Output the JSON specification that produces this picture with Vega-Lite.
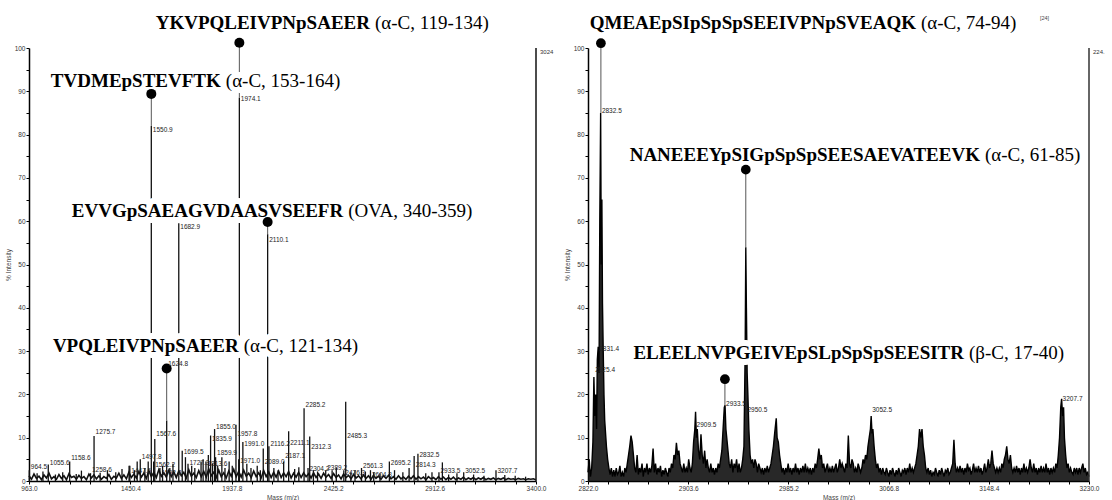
{
"$schema":"https://vega.github.io/schema/vega-lite/v6.json",
"padding":{"left":5,"top":13,"right":0,"bottom":0},
"spacing":10,
"config":{"view":{"stroke":null},
"axis":{"grid":false,"domainColor":"#000","domainWidth":1.5,"tickColor":"#000","tickSize":3,"tickWidth":1,"labelFont":"Liberation Sans","labelFontSize":6.5,"labelColor":"#333","labelPadding":1,"labelFlush":false,"labelOverlap":false,"titleFont":"Liberation Sans","titleFontSize":6.5,"titleFontWeight":"normal","titleColor":"#444","titlePadding":3}},
"datasets":{
"leftNoise":[{"m":963,"i":1.2},{"m":975,"i":0.4},{"m":987,"i":1.6},{"m":999,"i":0.6},{"m":1011,"i":1.1},{"m":1023,"i":0.3},{"m":1035,"i":1.4},{"m":1047,"i":0.7},{"m":1059,"i":1.8},{"m":1071,"i":0.5},{"m":1083,"i":1.0},{"m":1095,"i":0.4},{"m":1107,"i":1.5},{"m":1119,"i":0.6},{"m":1131,"i":1.2},{"m":1143,"i":0.3},{"m":1155,"i":1.7},{"m":1167,"i":0.8},{"m":1179,"i":1.1},{"m":1191,"i":0.4},{"m":1203,"i":1.3},{"m":1215,"i":0.6},{"m":1227,"i":1.0},{"m":1239,"i":0.3},{"m":1251,"i":1.6},{"m":1263,"i":0.7},{"m":1275,"i":1.4},{"m":1287,"i":0.5},{"m":1299,"i":1.2},{"m":1311,"i":0.4},{"m":1323,"i":1.0},{"m":1335,"i":0.6},{"m":1347,"i":1.5},{"m":1359,"i":0.4},{"m":1371,"i":1.1},{"m":1383,"i":0.7},{"m":1395,"i":1.8},{"m":1407,"i":0.6},{"m":1419,"i":1.4},{"m":1431,"i":0.5},{"m":1443,"i":2.0},{"m":1455,"i":0.8},{"m":1467,"i":1.6},{"m":1479,"i":0.7},{"m":1491,"i":2.2},{"m":1503,"i":0.9},{"m":1515,"i":1.8},{"m":1527,"i":0.6},{"m":1539,"i":2.4},{"m":1551,"i":1.0},{"m":1563,"i":2.0},{"m":1575,"i":0.8},{"m":1587,"i":2.6},{"m":1599,"i":1.1},{"m":1611,"i":1.9},{"m":1623,"i":0.9},{"m":1635,"i":2.5},{"m":1647,"i":1.0},{"m":1659,"i":2.1},{"m":1671,"i":0.8},{"m":1683,"i":2.3},{"m":1695,"i":1.2},{"m":1707,"i":2.0},{"m":1719,"i":0.7},{"m":1731,"i":2.6},{"m":1743,"i":1.1},{"m":1755,"i":1.8},{"m":1767,"i":0.8},{"m":1779,"i":2.4},{"m":1791,"i":1.0},{"m":1803,"i":2.2},{"m":1815,"i":0.9},{"m":1827,"i":2.8},{"m":1839,"i":1.2},{"m":1851,"i":2.0},{"m":1863,"i":0.8},{"m":1875,"i":2.5},{"m":1887,"i":1.0},{"m":1899,"i":1.9},{"m":1911,"i":0.7},{"m":1923,"i":2.3},{"m":1935,"i":1.1},{"m":1947,"i":2.7},{"m":1959,"i":1.0},{"m":1971,"i":2.2},{"m":1983,"i":0.9},{"m":1995,"i":2.5},{"m":2007,"i":1.1},{"m":2019,"i":1.8},{"m":2031,"i":0.8},{"m":2043,"i":2.3},{"m":2055,"i":1.0},{"m":2067,"i":1.9},{"m":2079,"i":0.7},{"m":2091,"i":2.4},{"m":2103,"i":1.0},{"m":2115,"i":2.1},{"m":2127,"i":0.8},{"m":2139,"i":2.0},{"m":2151,"i":0.9},{"m":2163,"i":2.3},{"m":2175,"i":0.8},{"m":2187,"i":1.9},{"m":2199,"i":1.0},{"m":2211,"i":2.2},{"m":2223,"i":0.7},{"m":2235,"i":1.8},{"m":2247,"i":0.9},{"m":2259,"i":2.0},{"m":2271,"i":0.8},{"m":2283,"i":1.9},{"m":2295,"i":1.0},{"m":2307,"i":1.7},{"m":2319,"i":0.7},{"m":2331,"i":1.9},{"m":2343,"i":0.8},{"m":2355,"i":1.6},{"m":2367,"i":0.6},{"m":2379,"i":1.8},{"m":2391,"i":0.9},{"m":2403,"i":1.5},{"m":2415,"i":0.6},{"m":2427,"i":1.7},{"m":2439,"i":0.8},{"m":2451,"i":1.4},{"m":2463,"i":0.5},{"m":2475,"i":1.6},{"m":2487,"i":0.8},{"m":2499,"i":1.3},{"m":2511,"i":0.5},{"m":2523,"i":1.5},{"m":2535,"i":0.7},{"m":2547,"i":1.2},{"m":2559,"i":0.5},{"m":2571,"i":1.4},{"m":2583,"i":0.6},{"m":2595,"i":1.2},{"m":2607,"i":0.4},{"m":2619,"i":1.3},{"m":2631,"i":0.6},{"m":2643,"i":1.1},{"m":2655,"i":0.4},{"m":2667,"i":1.2},{"m":2679,"i":0.6},{"m":2691,"i":1.3},{"m":2703,"i":0.5},{"m":2715,"i":1.0},{"m":2727,"i":0.4},{"m":2739,"i":1.2},{"m":2751,"i":0.5},{"m":2763,"i":0.9},{"m":2775,"i":0.4},{"m":2787,"i":1.1},{"m":2799,"i":0.5},{"m":2811,"i":1.2},{"m":2823,"i":0.4},{"m":2835,"i":1.0},{"m":2847,"i":0.5},{"m":2859,"i":0.9},{"m":2871,"i":0.3},{"m":2883,"i":1.0},{"m":2895,"i":0.5},{"m":2907,"i":0.8},{"m":2919,"i":0.3},{"m":2931,"i":1.0},{"m":2943,"i":0.4},{"m":2955,"i":0.9},{"m":2967,"i":0.3},{"m":2979,"i":0.8},{"m":2991,"i":0.4},{"m":3003,"i":0.9},{"m":3015,"i":0.3},{"m":3027,"i":0.7},{"m":3039,"i":0.4},{"m":3051,"i":0.9},{"m":3063,"i":0.3},{"m":3075,"i":0.7},{"m":3087,"i":0.4},{"m":3099,"i":0.8},{"m":3111,"i":0.3},{"m":3123,"i":0.7},{"m":3135,"i":0.4},{"m":3147,"i":0.8},{"m":3159,"i":0.3},{"m":3171,"i":0.6},{"m":3183,"i":0.4},{"m":3195,"i":0.7},{"m":3207,"i":0.3},{"m":3219,"i":0.6},{"m":3231,"i":0.4},{"m":3243,"i":0.7},{"m":3255,"i":0.3},{"m":3267,"i":0.6},{"m":3279,"i":0.4},{"m":3291,"i":0.5},{"m":3303,"i":0.3},{"m":3315,"i":0.6},{"m":3327,"i":0.4},{"m":3339,"i":0.5},{"m":3351,"i":0.3},{"m":3363,"i":0.5},{"m":3375,"i":0.4},{"m":3387,"i":0.5},{"m":3399,"i":0.3}],
"leftPeaks":[{"m":964.5,"i":2.5,"ly":3.2,"lab":"964.5"},{"m":1055.6,"i":3.8,"ly":4.2,"lab":"1055.6"},{"m":1158.6,"i":4.5,"ly":5.4,"lab":"1158.6"},{"m":1258.6,"i":1.8,"ly":2.6,"lab":"1258.6"},{"m":1275.7,"i":10.4,"ly":11.4,"lab":"1275.7"},{"m":1447.6,"i":3.5,"ly":2.2,"lab":"1447.6"},{"m":1497.8,"i":5.0,"ly":5.6,"lab":"1497.8"},{"m":1550.9,"i":82,"ly":81,"lab":"1550.9"},{"m":1562.2,"i":4.5,"ly":3.6,"lab":"1562.2"},{"m":1567.6,"i":9.7,"ly":10.9,"lab":"1567.6"},{"m":1592.3,"i":3.0,"ly":1.8,"lab":"1592.3"},{"m":1624.8,"i":14,"ly":27,"lab":"1624.8"},{"m":1682.9,"i":59.5,"ly":58.7,"lab":"1682.9"},{"m":1699.5,"i":7.0,"ly":6.6,"lab":"1699.5"},{"m":1727.3,"i":4.0,"ly":4.2,"lab":"1727.3"},{"m":1813.6,"i":4.5,"ly":3.9,"lab":"1813.6"},{"m":1835.9,"i":10.5,"ly":9.7,"lab":"1835.9"},{"m":1855.0,"i":12,"ly":12.5,"lab":"1855.0"},{"m":1859.9,"i":5.5,"ly":6.4,"lab":"1859.9"},{"m":1957.8,"i":13,"ly":10.9,"lab":"1957.8"},{"m":1971.0,"i":5.0,"ly":4.6,"lab":"1971.0"},{"m":1974.1,"i":88.5,"ly":88.2,"lab":"1974.1"},{"m":1991.0,"i":9.0,"ly":8.6,"lab":"1991.0"},{"m":2089.0,"i":7.5,"ly":4.3,"lab":"2089.0"},{"m":2110.1,"i":57,"ly":55.7,"lab":"2110.1"},{"m":2116.2,"i":8.0,"ly":8.6,"lab":"2116.2"},{"m":2187.1,"i":4.5,"ly":5.8,"lab":"2187.1"},{"m":2211.1,"i":11.5,"ly":8.8,"lab":"2211.1"},{"m":2285.2,"i":16.8,"ly":17.5,"lab":"2285.2"},{"m":2304.2,"i":3.0,"ly":2.7,"lab":"2304.2"},{"m":2312.3,"i":10.3,"ly":7.8,"lab":"2312.3"},{"m":2389.2,"i":2.5,"ly":3.0,"lab":"2389.2"},{"m":2476.3,"i":2.5,"ly":1.8,"lab":"2476.3"},{"m":2485.3,"i":18.3,"ly":10.4,"lab":"2485.3"},{"m":2561.3,"i":3.0,"ly":3.4,"lab":"2561.3"},{"m":2604.3,"i":2.5,"ly":1.5,"lab":"2604.3"},{"m":2695.2,"i":4.5,"ly":4.1,"lab":"2695.2"},{"m":2814.3,"i":5.8,"ly":3.6,"lab":"2814.3"},{"m":2832.5,"i":6.3,"ly":5.9,"lab":"2832.5"},{"m":2933.5,"i":2.0,"ly":2.2,"lab":"2933.5"},{"m":3052.5,"i":2.0,"ly":2.2,"lab":"3052.5"},{"m":3207.7,"i":2.5,"ly":2.2,"lab":"3207.7"},
{"m":1002,"i":1.8},{"m":1030,"i":2.2},{"m":1090,"i":1.5},{"m":1125,"i":2.0},{"m":1190,"i":1.6},{"m":1215,"i":2.4},{"m":1305,"i":1.9},{"m":1340,"i":2.5},{"m":1380,"i":2.0},{"m":1410,"i":2.8},{"m":1444,"i":3.5},{"m":1470,"i":2.5},{"m":1483,"i":4.5},{"m":1520,"i":3.0},{"m":1536,"i":4.5},{"m":1605,"i":3.5},{"m":1640,"i":3.0},{"m":1655,"i":4.0},{"m":1715,"i":5.5},{"m":1745,"i":3.5},{"m":1760,"i":3.0},{"m":1790,"i":4.5},{"m":1800,"i":5.0},{"m":1825,"i":6.0},{"m":1845,"i":4.0},{"m":1870,"i":3.5},{"m":1890,"i":5.5},{"m":1905,"i":3.0},{"m":1925,"i":4.5},{"m":1940,"i":3.5},{"m":2010,"i":4.0},{"m":2030,"i":3.0},{"m":2060,"i":3.5},{"m":2075,"i":2.5},{"m":2140,"i":3.0},{"m":2160,"i":2.5},{"m":2240,"i":2.8},{"m":2260,"i":3.2},{"m":2330,"i":2.5},{"m":2350,"i":2.2},{"m":2420,"i":2.5},{"m":2440,"i":3.0},{"m":2510,"i":2.0},{"m":2530,"i":2.5},{"m":2580,"i":2.2},{"m":2620,"i":2.0},{"m":2650,"i":1.8},{"m":2720,"i":2.5},{"m":2760,"i":2.0},{"m":2790,"i":3.0},{"m":2870,"i":1.8},{"m":2900,"i":2.0},{"m":2950,"i":4.3},{"m":2980,"i":1.5},{"m":3020,"i":1.8},{"m":3100,"i":1.5},{"m":3150,"i":1.2},{"m":3250,"i":1.4},{"m":3300,"i":1.2},{"m":3350,"i":1.0}],
"leftAnn":[{"seq":"YKVPQLEIVPNpSAEER","par":"(α-C, 119-134)","m":1974.1,"top":88.5,"dot":101.2,"lx":2602,"ly":104.3},{"seq":"TVDMEpSTEVFTK","par":"(α-C, 153-164)","m":1550.9,"top":82,"dot":89.4,"lx":1885,"ly":90.9},{"seq":"EVVGpSAEAGVDAASVSEEFR","par":"(OVA, 340-359)","m":2110.1,"top":57,"dot":59.8,"lx":2473,"ly":60.9},{"seq":"VPQLEIVPNpSAEER","par":"(α-C, 121-134)","m":1624.8,"top":14,"dot":26,"lx":1971,"ly":29.8}],
"rightTrace":[{"m":2822,"i":2},{"m":2823,"i":5},{"m":2824,"i":1},{"m":2825,"i":3},{"m":2826,"i":9},{"m":2826.8,"i":24},{"m":2827.5,"i":15},{"m":2828.2,"i":20},{"m":2829,"i":12},{"m":2829.6,"i":28},{"m":2830.3,"i":31},{"m":2831,"i":25},{"m":2831.6,"i":60},{"m":2832.3,"i":85},{"m":2832.8,"i":50},{"m":2833.3,"i":65},{"m":2833.8,"i":41},{"m":2834.4,"i":30},{"m":2835,"i":20},{"m":2835.6,"i":14},{"m":2836.3,"i":11},{"m":2837,"i":8},{"m":2838,"i":5},{"m":2839,"i":3},{"m":2840,"i":1.5},{"m":2841,"i":3},{"m":2842,"i":1},{"m":2843,"i":2.5},{"m":2844,"i":1},{"m":2845,"i":3},{"m":2846,"i":1.5},{"m":2847,"i":2},{"m":2848,"i":3.5},{"m":2849,"i":1},{"m":2850,"i":2},{"m":2851,"i":1},{"m":2852,"i":3},{"m":2853,"i":2},{"m":2854,"i":4},{"m":2855,"i":6},{"m":2856,"i":8},{"m":2857,"i":10.5},{"m":2858,"i":9},{"m":2859,"i":6},{"m":2860,"i":3},{"m":2861,"i":2},{"m":2862,"i":6},{"m":2863,"i":1.5},{"m":2864,"i":3},{"m":2865,"i":2},{"m":2866,"i":4},{"m":2867,"i":1},{"m":2868,"i":3},{"m":2869,"i":2},{"m":2870,"i":4},{"m":2871,"i":1.5},{"m":2872,"i":3},{"m":2873,"i":2},{"m":2874,"i":3.5},{"m":2875,"i":7.5},{"m":2876,"i":2},{"m":2877,"i":4},{"m":2878,"i":1.5},{"m":2879,"i":3},{"m":2880,"i":2},{"m":2881,"i":3.5},{"m":2882,"i":1},{"m":2883,"i":2.5},{"m":2884,"i":1.5},{"m":2885,"i":3},{"m":2886,"i":2},{"m":2887,"i":1},{"m":2888,"i":3},{"m":2889,"i":2},{"m":2890,"i":4},{"m":2891,"i":3},{"m":2892,"i":6},{"m":2893,"i":5},{"m":2894,"i":8.8},{"m":2895,"i":6},{"m":2896,"i":7},{"m":2897,"i":4},{"m":2898,"i":3},{"m":2899,"i":2},{"m":2900,"i":4},{"m":2901,"i":2},{"m":2902,"i":3},{"m":2903,"i":2},{"m":2904,"i":5},{"m":2905,"i":3},{"m":2906,"i":2},{"m":2907,"i":4},{"m":2908,"i":9},{"m":2909,"i":12},{"m":2909.6,"i":16},{"m":2910.3,"i":10},{"m":2911,"i":12},{"m":2912,"i":7},{"m":2913,"i":5},{"m":2914,"i":10.8},{"m":2915,"i":6},{"m":2916,"i":4},{"m":2917,"i":7},{"m":2918,"i":3},{"m":2919,"i":5},{"m":2920,"i":3},{"m":2921,"i":2},{"m":2922,"i":4},{"m":2923,"i":2},{"m":2924,"i":3},{"m":2925,"i":1.5},{"m":2926,"i":3},{"m":2927,"i":2},{"m":2928,"i":4},{"m":2929,"i":3},{"m":2930,"i":5},{"m":2931,"i":7},{"m":2932,"i":12},{"m":2933,"i":17},{"m":2933.6,"i":17.5},{"m":2934.3,"i":12},{"m":2935,"i":10},{"m":2936,"i":7},{"m":2937,"i":4},{"m":2938,"i":3},{"m":2939,"i":5},{"m":2940,"i":2},{"m":2941,"i":4},{"m":2942,"i":3},{"m":2943,"i":5},{"m":2944,"i":2},{"m":2945,"i":4},{"m":2946,"i":2},{"m":2947,"i":3},{"m":2948,"i":5},{"m":2949,"i":8},{"m":2950,"i":30},{"m":2950.5,"i":54},{"m":2951,"i":40},{"m":2951.6,"i":25},{"m":2952.2,"i":20},{"m":2953,"i":12},{"m":2954,"i":6},{"m":2955,"i":4},{"m":2956,"i":5},{"m":2957,"i":3},{"m":2958,"i":5},{"m":2959,"i":4},{"m":2960,"i":2},{"m":2961,"i":4},{"m":2962,"i":3},{"m":2963,"i":2},{"m":2964,"i":3},{"m":2965,"i":1.5},{"m":2966,"i":3},{"m":2967,"i":2},{"m":2968,"i":3.5},{"m":2969,"i":2},{"m":2970,"i":3},{"m":2971,"i":4},{"m":2972,"i":6},{"m":2973,"i":8},{"m":2974,"i":11},{"m":2975.3,"i":14.5},{"m":2976,"i":10},{"m":2977,"i":9},{"m":2978,"i":6},{"m":2979,"i":4},{"m":2980,"i":2},{"m":2981,"i":3},{"m":2982,"i":1.5},{"m":2983,"i":3},{"m":2984,"i":2},{"m":2985,"i":4},{"m":2986,"i":2},{"m":2987,"i":3},{"m":2988,"i":1.5},{"m":2989,"i":3},{"m":2990,"i":2},{"m":2991,"i":4},{"m":2992,"i":2},{"m":2993,"i":3},{"m":2994,"i":1.5},{"m":2995,"i":3},{"m":2996,"i":2},{"m":2997,"i":3.5},{"m":2998,"i":2},{"m":2999,"i":4},{"m":3000,"i":2},{"m":3001,"i":3},{"m":3002,"i":2},{"m":3003,"i":3},{"m":3004,"i":1.5},{"m":3005,"i":3},{"m":3006,"i":2},{"m":3007,"i":4},{"m":3008,"i":3},{"m":3009,"i":5},{"m":3010,"i":7.5},{"m":3011,"i":5},{"m":3012,"i":6},{"m":3013,"i":3},{"m":3014,"i":4},{"m":3015,"i":2},{"m":3016,"i":3},{"m":3017,"i":4},{"m":3018,"i":2},{"m":3019,"i":3},{"m":3020,"i":2},{"m":3021,"i":3.5},{"m":3022,"i":2},{"m":3023,"i":3},{"m":3024,"i":4},{"m":3025,"i":2},{"m":3026,"i":3},{"m":3027,"i":5},{"m":3028,"i":3},{"m":3029,"i":4},{"m":3030,"i":3},{"m":3031,"i":2},{"m":3032,"i":4},{"m":3033,"i":3},{"m":3034,"i":10.5},{"m":3035,"i":4},{"m":3036,"i":3},{"m":3037,"i":5},{"m":3038,"i":4},{"m":3039,"i":2},{"m":3040,"i":3},{"m":3041,"i":2},{"m":3042,"i":4},{"m":3043,"i":3},{"m":3044,"i":2},{"m":3045,"i":3},{"m":3046,"i":5},{"m":3047,"i":4},{"m":3048,"i":6},{"m":3049,"i":5},{"m":3050,"i":8},{"m":3051,"i":10},{"m":3052,"i":12},{"m":3052.6,"i":15},{"m":3053.3,"i":11},{"m":3054,"i":12},{"m":3055,"i":8},{"m":3056,"i":5},{"m":3057,"i":3},{"m":3058,"i":4},{"m":3059,"i":2},{"m":3060,"i":3},{"m":3061,"i":1.5},{"m":3062,"i":3},{"m":3063,"i":2},{"m":3064,"i":1.5},{"m":3065,"i":3},{"m":3066,"i":2},{"m":3067,"i":1},{"m":3068,"i":2.5},{"m":3069,"i":1.5},{"m":3070,"i":3},{"m":3071,"i":2},{"m":3072,"i":1},{"m":3073,"i":2.5},{"m":3074,"i":1.5},{"m":3075,"i":3},{"m":3076,"i":2},{"m":3077,"i":1},{"m":3078,"i":2.5},{"m":3079,"i":2},{"m":3080,"i":3},{"m":3081,"i":1.5},{"m":3082,"i":3},{"m":3083,"i":2},{"m":3084,"i":4},{"m":3085,"i":2},{"m":3086,"i":3},{"m":3087,"i":2},{"m":3088,"i":3},{"m":3089,"i":4},{"m":3090,"i":6},{"m":3091,"i":8},{"m":3092,"i":12},{"m":3093,"i":10},{"m":3094,"i":12},{"m":3095,"i":8},{"m":3096,"i":6},{"m":3097,"i":3},{"m":3098,"i":2},{"m":3099,"i":3},{"m":3100,"i":1.5},{"m":3101,"i":2.5},{"m":3102,"i":1},{"m":3103,"i":2},{"m":3104,"i":1.5},{"m":3105,"i":3},{"m":3106,"i":2},{"m":3107,"i":1},{"m":3108,"i":2.5},{"m":3109,"i":1.5},{"m":3110,"i":3},{"m":3111,"i":2},{"m":3112,"i":1},{"m":3113,"i":2.5},{"m":3114,"i":2},{"m":3115,"i":3},{"m":3116,"i":1.5},{"m":3117,"i":2},{"m":3118,"i":3},{"m":3119,"i":4},{"m":3120,"i":9.5},{"m":3121,"i":4},{"m":3122,"i":2},{"m":3123,"i":3},{"m":3124,"i":2},{"m":3125,"i":3.5},{"m":3126,"i":2},{"m":3127,"i":3},{"m":3128,"i":1.5},{"m":3129,"i":3},{"m":3130,"i":2},{"m":3131,"i":4},{"m":3132,"i":2.5},{"m":3133,"i":3},{"m":3134,"i":1.5},{"m":3135,"i":2.5},{"m":3136,"i":4},{"m":3137,"i":2},{"m":3138,"i":3},{"m":3139,"i":2},{"m":3140,"i":3.5},{"m":3141,"i":2},{"m":3142,"i":3},{"m":3143,"i":1.5},{"m":3144,"i":2.5},{"m":3145,"i":4},{"m":3146,"i":2},{"m":3147,"i":3},{"m":3148,"i":5},{"m":3149,"i":3},{"m":3150,"i":4},{"m":3151,"i":7},{"m":3152,"i":4},{"m":3153,"i":3},{"m":3154,"i":2},{"m":3155,"i":3},{"m":3156,"i":2},{"m":3157,"i":3},{"m":3158,"i":2},{"m":3159,"i":4},{"m":3160,"i":3},{"m":3161,"i":5},{"m":3162,"i":6},{"m":3163,"i":8},{"m":3164,"i":5},{"m":3165,"i":4},{"m":3166,"i":6},{"m":3167,"i":3},{"m":3168,"i":2},{"m":3169,"i":3},{"m":3170,"i":2},{"m":3171,"i":3.5},{"m":3172,"i":2},{"m":3173,"i":3},{"m":3174,"i":1.5},{"m":3175,"i":3},{"m":3176,"i":2},{"m":3177,"i":4},{"m":3178,"i":2},{"m":3179,"i":3},{"m":3180,"i":2},{"m":3181,"i":3},{"m":3182,"i":5},{"m":3183,"i":3},{"m":3184,"i":2},{"m":3185,"i":4},{"m":3186,"i":2},{"m":3187,"i":3},{"m":3188,"i":1.5},{"m":3189,"i":3},{"m":3190,"i":2},{"m":3191,"i":3.5},{"m":3192,"i":2},{"m":3193,"i":3},{"m":3194,"i":2},{"m":3195,"i":4},{"m":3196,"i":2},{"m":3197,"i":3},{"m":3198,"i":1.5},{"m":3199,"i":3},{"m":3200,"i":2},{"m":3201,"i":3},{"m":3202,"i":2},{"m":3203,"i":4},{"m":3204,"i":3},{"m":3205,"i":6},{"m":3206,"i":10},{"m":3207,"i":17},{"m":3207.7,"i":19},{"m":3208.5,"i":15},{"m":3209.3,"i":17},{"m":3210,"i":10},{"m":3211,"i":6},{"m":3212,"i":3},{"m":3213,"i":4},{"m":3214,"i":2},{"m":3215,"i":3},{"m":3216,"i":2},{"m":3217,"i":1.5},{"m":3218,"i":3},{"m":3219,"i":2},{"m":3220,"i":3},{"m":3221,"i":1.5},{"m":3222,"i":3},{"m":3223,"i":2},{"m":3224,"i":3},{"m":3225,"i":4},{"m":3226,"i":2},{"m":3227,"i":3},{"m":3228,"i":1.5},{"m":3229,"i":2},{"m":3230,"i":1}],
"rightLabels":[{"m":2827,"ly":25.6,"lab":"2825.4"},{"m":2830.3,"ly":30.5,"lab":"2831.4"},{"m":2832.5,"ly":85.4,"lab":"2832.5"},{"m":2909.6,"ly":12.9,"lab":"2909.5"},{"m":2933.6,"ly":17.8,"lab":"2933.5"},{"m":2951,"ly":16.4,"lab":"2950.5"},{"m":3052.6,"ly":16.4,"lab":"3052.5"},{"m":3207.7,"ly":18.9,"lab":"3207.7"}],
"rightAnn":[{"seq":"QMEAEpSIpSpSpSEEIVPNpSVEAQK","par":"(α-C, 74-94)","m":2832.5,"top":85,"dot":101.1,"lx":3089.1,"ly":104.4},{"seq":"NANEEEYpSIGpSpSpSEESAEVATEEVK","par":"(α-C, 61-85)","m":2950.5,"top":54,"dot":71.9,"lx":3141.2,"ly":74},{"seq":"ELEELNVPGEIVEpSLpSpSpSEESITR","par":"(β-C, 17-40)","m":2933.5,"top":17.5,"dot":23.5,"lx":3128.2,"ly":28.1}]
},
"hconcat":[
{"width":507,"height":433,
"layer":[
{"data":{"name":"leftNoise"},"mark":{"type":"line","color":"#111","strokeWidth":1.6},
"encoding":{
"x":{"field":"m","type":"quantitative","scale":{"domain":[963,3400],"nice":false,"zero":false},"axis":{"title":"Mass (m/z)","labelOverlap":false,"tickCount":40,"values":[963,1060.48,1157.96,1255.44,1352.92,1450.4,1547.88,1645.36,1742.84,1840.32,1937.8,2035.28,2132.76,2230.24,2327.72,2425.2,2522.68,2620.16,2717.64,2815.12,2912.6,3010.08,3107.56,3205.04,3302.52,3400],"labelExpr":"indexof([963,1450.4,1937.8,2425.2,2912.6,3400], datum.value) >= 0 ? format(datum.value, '.1f') : ''"}},
"y":{"field":"i","type":"quantitative","scale":{"domain":[0,100],"nice":false,"zero":true},"axis":{"title":"% Intensity","labelOverlap":false,"tickCount":40,"values":[0,5,10,15,20,25,30,35,40,45,50,55,60,65,70,75,80,85,90,95,100],"labelExpr":"datum.value % 10 == 0 ? datum.label : ''"}}}},
{"data":{"name":"leftPeaks"},"mark":{"type":"rule","color":"#111","strokeWidth":1.3},
"encoding":{"x":{"field":"m","type":"quantitative"},"y":{"field":"i","type":"quantitative"},"y2":{"datum":0}}},
{"data":{"name":"leftAnn"},"mark":{"type":"rule","color":"#555","strokeWidth":1},
"encoding":{"x":{"field":"m","type":"quantitative"},"y":{"field":"top","type":"quantitative"},"y2":{"field":"dot"}}},
{"data":{"values":[{}]},"mark":{"type":"rule","color":"#111","strokeWidth":1.5},
"encoding":{"x":{"datum":3400,"type":"quantitative"},"y":{"datum":0,"type":"quantitative"},"y2":{"datum":100}}},
{"data":{"name":"leftAnn"},"mark":{"type":"text","font":"Liberation Serif","fontWeight":"bold","fontSize":19,"align":"right","baseline":"alphabetic","color":"white","stroke":"white","strokeWidth":12,"strokeJoin":"round"},
"encoding":{"x":{"field":"lx","type":"quantitative"},"y":{"field":"ly","type":"quantitative"},"text":{"field":"seq"}}},
{"data":{"name":"leftAnn"},"mark":{"type":"text","font":"Liberation Serif","fontSize":19,"align":"left","dx":5,"baseline":"alphabetic","color":"white","stroke":"white","strokeWidth":12,"strokeJoin":"round"},
"encoding":{"x":{"field":"lx","type":"quantitative"},"y":{"field":"ly","type":"quantitative"},"text":{"field":"par"}}},
{"data":{"name":"leftAnn"},"mark":{"type":"point","filled":true,"color":"#000","size":100,"opacity":1},
"encoding":{"x":{"field":"m","type":"quantitative"},"y":{"field":"dot","type":"quantitative"}}},
{"data":{"name":"leftAnn"},"mark":{"type":"text","font":"Liberation Serif","fontWeight":"bold","fontSize":19,"align":"right","baseline":"alphabetic","color":"#000"},
"encoding":{"x":{"field":"lx","type":"quantitative"},"y":{"field":"ly","type":"quantitative"},"text":{"field":"seq"}}},
{"data":{"name":"leftAnn"},"mark":{"type":"text","font":"Liberation Serif","fontSize":19,"align":"left","dx":5,"baseline":"alphabetic","color":"#000"},
"encoding":{"x":{"field":"lx","type":"quantitative"},"y":{"field":"ly","type":"quantitative"},"text":{"field":"par"}}},
{"data":{"name":"leftPeaks"},"transform":[{"filter":"isValid(datum.lab)"}],"mark":{"type":"text","font":"Liberation Sans","fontSize":6.5,"align":"left","dx":1.5,"baseline":"middle","color":"#222"},
"encoding":{"x":{"field":"m","type":"quantitative"},"y":{"field":"ly","type":"quantitative"},"text":{"field":"lab"}}},
{"data":{"values":[{"t":"3024"}]},"mark":{"type":"text","font":"Liberation Sans","fontSize":6,"align":"left","dx":4,"baseline":"middle","color":"#333"},
"encoding":{"x":{"datum":3400,"type":"quantitative"},"y":{"datum":99,"type":"quantitative"},"text":{"field":"t"}}}
]},
{"width":501,"height":433,
"layer":[
{"data":{"name":"rightTrace"},"mark":{"type":"area","color":"#111","opacity":0.9},
"encoding":{
"x":{"field":"m","type":"quantitative","scale":{"domain":[2822,3230],"nice":false,"zero":false},"axis":{"title":"Mass (m/z)","labelOverlap":false,"tickCount":40,"values":[2822,2838.32,2854.64,2870.96,2887.28,2903.6,2919.92,2936.24,2952.56,2968.88,2985.2,3001.52,3017.84,3034.16,3050.48,3066.8,3083.12,3099.44,3115.76,3132.08,3148.4,3164.72,3181.04,3197.36,3213.68,3230],"labelExpr":"indexof([2822,2903.6,2985.2,3066.8,3148.4,3230], datum.value) >= 0 ? format(datum.value, '.1f') : ''"}},
"y":{"field":"i","type":"quantitative","scale":{"domain":[0,100],"nice":false,"zero":true},"axis":{"title":"% Intensity","labelOverlap":false,"tickCount":40,"values":[0,5,10,15,20,25,30,35,40,45,50,55,60,65,70,75,80,85,90,95,100],"labelExpr":"datum.value % 10 == 0 ? datum.label : ''"}}}},
{"data":{"name":"rightTrace"},"mark":{"type":"line","color":"#000","strokeWidth":1.4},
"encoding":{"x":{"field":"m","type":"quantitative"},"y":{"field":"i","type":"quantitative"}}},
{"data":{"name":"rightAnn"},"mark":{"type":"rule","color":"#555","strokeWidth":1},
"encoding":{"x":{"field":"m","type":"quantitative"},"y":{"field":"top","type":"quantitative"},"y2":{"field":"dot"}}},
{"data":{"values":[{}]},"mark":{"type":"rule","color":"#333","strokeWidth":1.5},
"encoding":{"x":{"datum":3230,"type":"quantitative"},"y":{"datum":0,"type":"quantitative"},"y2":{"datum":100}}},
{"data":{"name":"rightAnn"},"mark":{"type":"text","font":"Liberation Serif","fontWeight":"bold","fontSize":19,"align":"right","baseline":"alphabetic","color":"white","stroke":"white","strokeWidth":12,"strokeJoin":"round"},
"encoding":{"x":{"field":"lx","type":"quantitative"},"y":{"field":"ly","type":"quantitative"},"text":{"field":"seq"}}},
{"data":{"name":"rightAnn"},"mark":{"type":"text","font":"Liberation Serif","fontSize":19,"align":"left","dx":5,"baseline":"alphabetic","color":"white","stroke":"white","strokeWidth":12,"strokeJoin":"round"},
"encoding":{"x":{"field":"lx","type":"quantitative"},"y":{"field":"ly","type":"quantitative"},"text":{"field":"par"}}},
{"data":{"name":"rightAnn"},"mark":{"type":"point","filled":true,"color":"#000","size":95,"opacity":1},
"encoding":{"x":{"field":"m","type":"quantitative"},"y":{"field":"dot","type":"quantitative"}}},
{"data":{"name":"rightAnn"},"mark":{"type":"text","font":"Liberation Serif","fontWeight":"bold","fontSize":19,"align":"right","baseline":"alphabetic","color":"#000"},
"encoding":{"x":{"field":"lx","type":"quantitative"},"y":{"field":"ly","type":"quantitative"},"text":{"field":"seq"}}},
{"data":{"name":"rightAnn"},"mark":{"type":"text","font":"Liberation Serif","fontSize":19,"align":"left","dx":5,"baseline":"alphabetic","color":"#000"},
"encoding":{"x":{"field":"lx","type":"quantitative"},"y":{"field":"ly","type":"quantitative"},"text":{"field":"par"}}},
{"data":{"name":"rightLabels"},"mark":{"type":"text","font":"Liberation Sans","fontSize":6.5,"align":"left","dx":1,"baseline":"middle","color":"#222"},
"encoding":{"x":{"field":"m","type":"quantitative"},"y":{"field":"ly","type":"quantitative"},"text":{"field":"lab"}}},
{"data":{"values":[{"t":"224."}]},"mark":{"type":"text","font":"Liberation Sans","fontSize":6,"align":"left","dx":4,"baseline":"middle","color":"#333"},
"encoding":{"x":{"datum":3230,"type":"quantitative"},"y":{"datum":99,"type":"quantitative"},"text":{"field":"t"}}},
{"data":{"values":[{"t":"[24]"}]},"mark":{"type":"text","font":"Liberation Sans","fontSize":5.5,"align":"left","baseline":"middle","color":"#444"},
"encoding":{"x":{"datum":3190,"type":"quantitative"},"y":{"datum":107,"type":"quantitative"},"text":{"field":"t"}}}
]}
]
}
